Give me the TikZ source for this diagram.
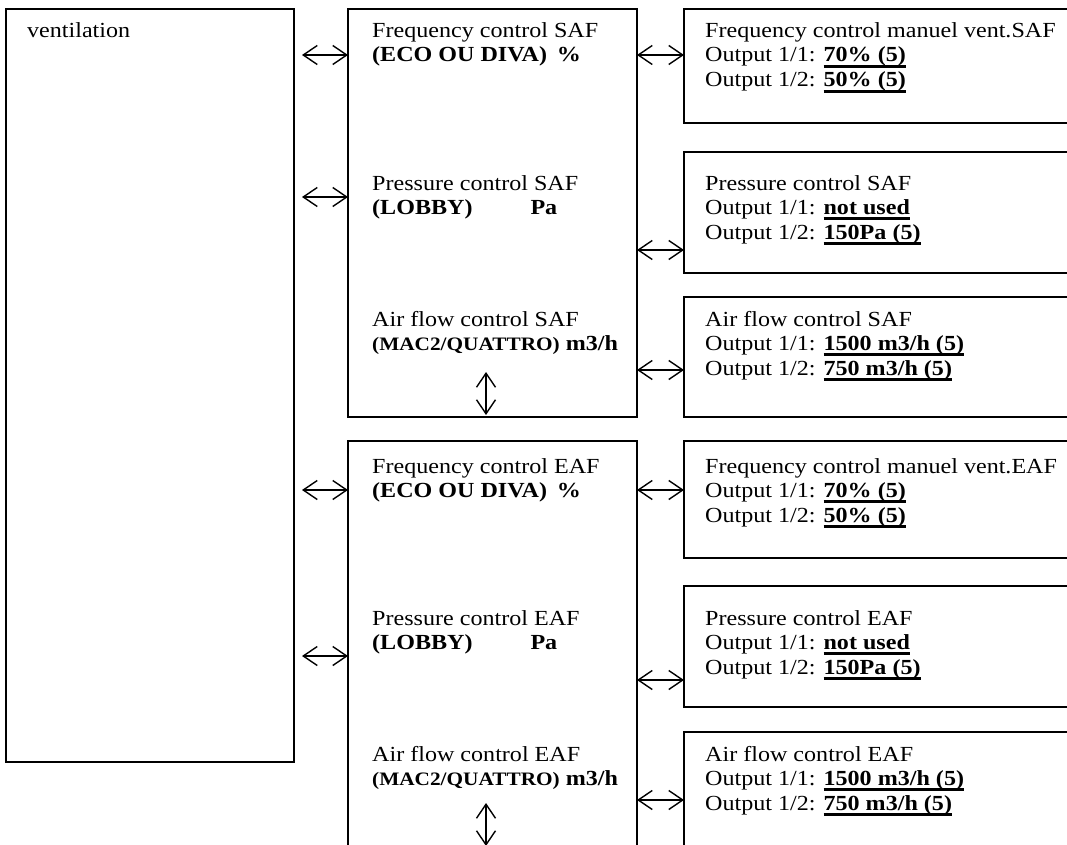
\documentclass[tikz,border=0pt]{standalone}
\usepackage{fontspec}
\setmainfont{Liberation Serif}[FakeStretch=1.12]
\usetikzlibrary{arrows.meta}
\newcommand\uval[1]{\setbox0\hbox{\textbf{#1}}\rlap{\rule[-5.6pt]{\wd0}{2.3pt}}\box0}
\begin{document}
\begin{tikzpicture}[x=1pt,y=-1pt,
  box/.style={draw, line width=1.5pt, rectangle, anchor=north west, inner sep=0pt, outer sep=0pt},
  txt/.style={anchor=base west, inner sep=0pt, font=\fontsize{21.5}{24.5}\selectfont},
  dbl/.style={line width=1.4pt, {Straight Barb[length=14pt,width=19pt]}-{Straight Barb[length=14pt,width=19pt]}}]
\useasboundingbox (0,0) rectangle (1067,845);
\fill[white] (0,0) rectangle (1067,845);
\clip (0,0) rectangle (1067,845);
% boxes
\node[box, minimum width=288pt, minimum height=753pt] (lb) at (6,9) {};
\node[box, minimum width=289pt, minimum height=408pt] (mt) at (348,9) {};
\node[box, minimum width=289pt, minimum height=430pt] (mb) at (348,441) {};
\node[box, minimum width=400pt, minimum height=114pt] (r1) at (684,9) {};
\node[box, minimum width=400pt, minimum height=121pt] (r2) at (684,152) {};
\node[box, minimum width=400pt, minimum height=120pt] (r3) at (684,297) {};
\node[box, minimum width=400pt, minimum height=117pt] (r4) at (684,441) {};
\node[box, minimum width=400pt, minimum height=121pt] (r5) at (684,586) {};
\node[box, minimum width=400pt, minimum height=140pt] (r6) at (684,732) {};
% texts
\node[txt] (tv) at (27,38) {ventilation};
\node[txt] (m1a) at (372,38) {Frequency control SAF};
\node[txt] (m1b) at (372,62) {\textbf{(ECO OU DIVA)}\hspace{10pt}\textbf{\%}};
\node[txt] (m2a) at (372,190) {Pressure control SAF};
\node[txt] (m2b) at (372,214) {\textbf{(LOBBY)}\hspace{58pt}\textbf{Pa}};
\node[txt] (m3a) at (372,326) {Air flow control SAF};
\node[txt] (m3b) at (372,350) {{\fontsize{19}{24.5}\selectfont\textbf{(MAC2/QUATTRO)}} \textbf{m3/h}};
\node[txt] (m4a) at (372,473) {Frequency control EAF};
\node[txt] (m4b) at (372,497) {\textbf{(ECO OU DIVA)}\hspace{10pt}\textbf{\%}};
\node[txt] (m5a) at (372,625) {Pressure control EAF};
\node[txt] (m5b) at (372,649) {\textbf{(LOBBY)}\hspace{58pt}\textbf{Pa}};
\node[txt] (m6a) at (372,761) {Air flow control EAF};
\node[txt] (m6b) at (372,785) {{\fontsize{19}{24.5}\selectfont\textbf{(MAC2/QUATTRO)}} \textbf{m3/h}};
% right texts
\node[txt] (r1a) at (705,38) {Frequency control manuel vent.SAF};
\node[txt] (r1b) at (705,62) {Output 1/1: \uval{70\% (5)}};
\node[txt] (r1c) at (705,87) {Output 1/2: \uval{50\% (5)}};
\node[txt] (r2a) at (705,190) {Pressure control SAF};
\node[txt] (r2b) at (705,214) {Output 1/1: \uval{not used}};
\node[txt] (r2c) at (705,239) {Output 1/2: \uval{150Pa (5)}};
\node[txt] (r3a) at (705,326) {Air flow control SAF};
\node[txt] (r3b) at (705,350) {Output 1/1: \uval{1500 m3/h (5)}};
\node[txt] (r3c) at (705,375) {Output 1/2: \uval{750 m3/h (5)}};
\node[txt] (r4a) at (705,473) {Frequency control manuel vent.EAF};
\node[txt] (r4b) at (705,497) {Output 1/1: \uval{70\% (5)}};
\node[txt] (r4c) at (705,522) {Output 1/2: \uval{50\% (5)}};
\node[txt] (r5a) at (705,625) {Pressure control EAF};
\node[txt] (r5b) at (705,649) {Output 1/1: \uval{not used}};
\node[txt] (r5c) at (705,674) {Output 1/2: \uval{150Pa (5)}};
\node[txt] (r6a) at (705,761) {Air flow control EAF};
\node[txt] (r6b) at (705,785) {Output 1/1: \uval{1500 m3/h (5)}};
\node[txt] (r6c) at (705,810) {Output 1/2: \uval{750 m3/h (5)}};
% arrow levels
\coordinate (y55) at (0,55);
\coordinate (y197) at (0,197);
\coordinate (y490) at (0,490);
\coordinate (y656) at (0,656);
\coordinate (y250) at (0,250);
\coordinate (y370) at (0,370);
\coordinate (y680) at (0,680);
\coordinate (y800) at (0,800);
\coordinate (v1top) at (486,372);
\coordinate (v2top) at (486,803);
\coordinate (v2bot) at (486,846);
% left arrows
\draw[dbl] ([xshift=8pt]lb.east |- y55) -- (mt.west |- y55);
\draw[dbl] ([xshift=8pt]lb.east |- y197) -- (mt.west |- y197);
\draw[dbl] ([xshift=8pt]lb.east |- y490) -- (mb.west |- y490);
\draw[dbl] ([xshift=8pt]lb.east |- y656) -- (mb.west |- y656);
% right arrows
\draw[dbl] (mt.east |- y55) -- (r1.west |- y55);
\draw[dbl] (mt.east |- y250) -- (r2.west |- y250);
\draw[dbl] (mt.east |- y370) -- (r3.west |- y370);
\draw[dbl] (mb.east |- y490) -- (r4.west |- y490);
\draw[dbl] (mb.east |- y680) -- (r5.west |- y680);
\draw[dbl] (mb.east |- y800) -- (r6.west |- y800);
% vertical arrows
\draw[dbl] (v1top) -- ([yshift=2pt]mt.south -| v1top);
\draw[dbl] (v2top) -- (v2bot);
\end{tikzpicture}
\end{document}
